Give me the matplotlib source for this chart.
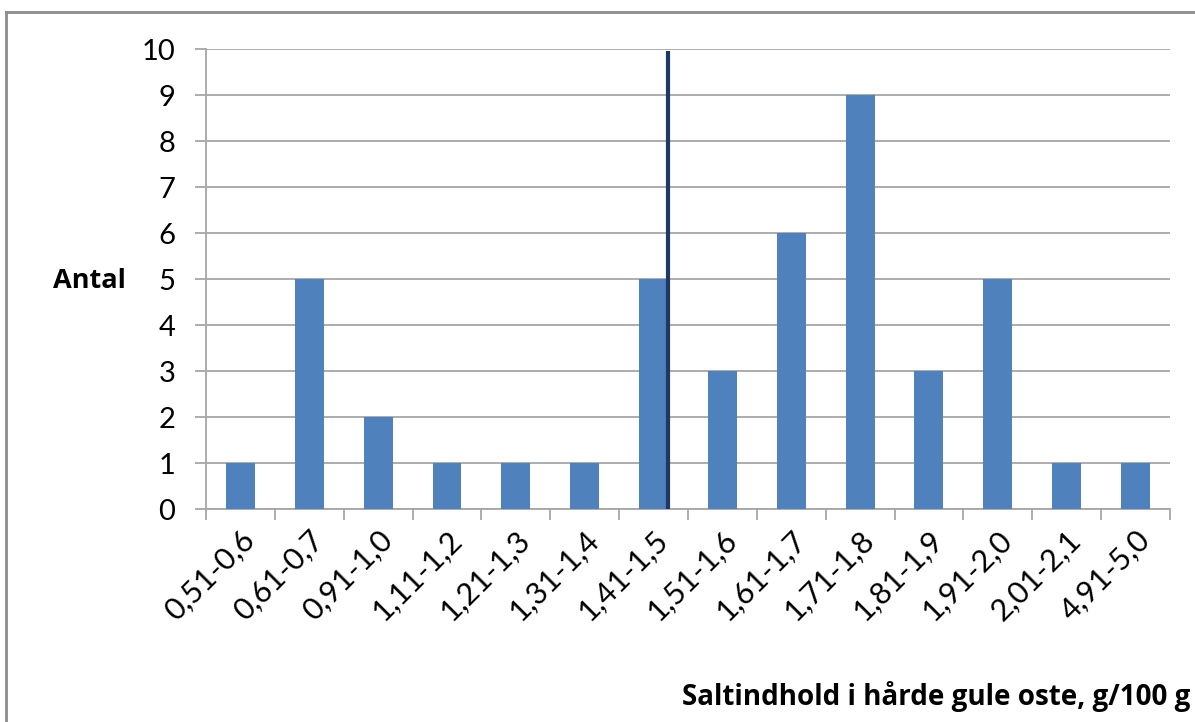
import numpy as np
import matplotlib.pyplot as plt
from matplotlib.lines import Line2D

plt.rcParams['font.family'] = ['Lato', 'DejaVu Sans']

# Data
kategorier = ["0,51-0,6", "0,61-0,7", "0,91-1,0", "1,11-1,2", "1,21-1,3", "1,31-1,4",
              "1,41-1,5", "1,51-1,6", "1,61-1,7", "1,71-1,8", "1,81-1,9", "1,91-2,0",
              "2,01-2,1", "4,91-5,0"]
antal = [1, 5, 2, 1, 1, 1, 5, 3, 6, 9, 3, 5, 1, 1]
markering_x = 6.21   # lodret linje ved højre kant af 1,41-1,5
markering_y = [0, 9.95]

fig = plt.figure(figsize=(11.95, 7.22), dpi=100)
ax = fig.add_axes([0.1724, 0.295, 0.979 - 0.1724, 0.932 - 0.295])

x = np.arange(len(kategorier))
ax.bar(x, antal, width=0.42, color='#4F81BD', zorder=3)
ax.plot([markering_x, markering_x], markering_y, color='#1F3864', lw=3, zorder=4,
        solid_capstyle='butt', clip_on=False)

ax.set_xlim(-0.5, len(kategorier) - 0.5)
ax.set_ylim(0, 10)
ax.set_yticks(range(0, 11))
ax.yaxis.grid(True, color='#A6A6A6', lw=1.3, zorder=0)

ax.set_xticks(x)
ax.set_xticklabels(kategorier, rotation=45, ha='right', rotation_mode='anchor', fontsize=22)
ax.set_xticks(np.arange(-0.5, len(kategorier)), minor=True)
ax.tick_params(axis='x', which='major', length=0, pad=12)
ax.tick_params(axis='x', which='minor', length=8, width=1.3, color='#A6A6A6')
ax.tick_params(axis='y', length=8, width=1.3, color='#A6A6A6', pad=14, labelsize=21)

for side in ['top', 'right']:
    ax.spines[side].set_visible(False)
for side in ['left', 'bottom']:
    ax.spines[side].set_color('#A6A6A6')
    ax.spines[side].set_linewidth(1.3)

fig.text(53 / 1195, 1 - 281 / 722, "Antal", fontsize=19.5, fontweight='bold', va='center', ha='left',
         family=['Open Sans', 'DejaVu Sans'])
fig.text(1190 / 1195, 1 - 697 / 722, "Saltindhold i hårde gule oste, g/100 g", fontsize=20,
         fontweight='bold', va='center', ha='right', family=['Open Sans', 'DejaVu Sans'])

# ramme om figuren
fig.add_artist(Line2D([6 / 1195, 6 / 1195], [0, 1 - 12 / 722], transform=fig.transFigure,
                      color='#8C8C8C', lw=2))
fig.add_artist(Line2D([6 / 1195, 1], [1 - 12 / 722, 1 - 12 / 722], transform=fig.transFigure,
                      color='#8C8C8C', lw=2))

fig.savefig('out.png', dpi=100)
